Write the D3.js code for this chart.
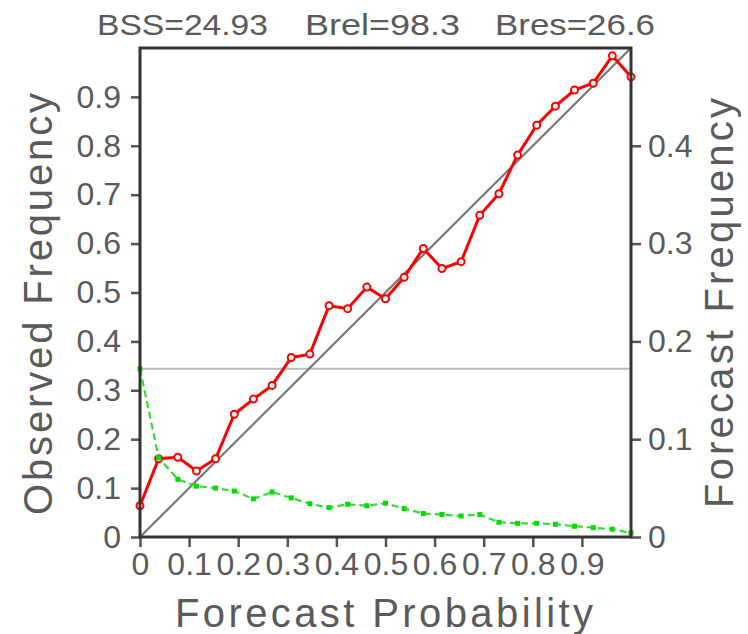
<!DOCTYPE html>
<html>
<head>
<meta charset="utf-8">
<script src="https://cdn.jsdelivr.net/npm/d3@7"></script>
<style>
body { margin: 0; background: #fff; }
text { font-family: "Liberation Sans", Arial, sans-serif; fill: #5a5a5a; }
</style>
</head>
<body>
<script>
// reliability diagram values
var prob = [0, 0.038, 0.077, 0.115, 0.154, 0.192, 0.231, 0.269, 0.308, 0.346, 0.385, 0.423, 0.462, 0.5,
            0.538, 0.577, 0.615, 0.654, 0.692, 0.731, 0.769, 0.808, 0.846, 0.885, 0.923, 0.962, 1.0];
var obsFreq = [0.064, 0.16, 0.163, 0.135, 0.16, 0.251, 0.282, 0.31, 0.367, 0.374, 0.473, 0.467, 0.511, 0.487,
               0.531, 0.59, 0.549, 0.563, 0.658, 0.702, 0.781, 0.842, 0.881, 0.914, 0.928, 0.984, 0.941];
var fcstFreq = [0.172, 0.081, 0.059, 0.052, 0.05, 0.047, 0.039, 0.046, 0.04, 0.034, 0.03, 0.0335, 0.032, 0.0345,
                0.029, 0.024, 0.023, 0.0215, 0.023, 0.015, 0.014, 0.014, 0.013, 0.011, 0.0095, 0.008, 0.004];
var climatology = 0.344;

var probTicks = [0, 0.1, 0.2, 0.3, 0.4, 0.5, 0.6, 0.7, 0.8, 0.9];
var obsTicks = [0, 0.1, 0.2, 0.3, 0.4, 0.5, 0.6, 0.7, 0.8, 0.9];
var fcstTicks = [0, 0.1, 0.2, 0.3, 0.4];
var scores = ["BSS=24.93", "Brel=98.3", "Bres=26.6"];

var margin = {top: 48, right: 117, bottom: 97, left: 140},
    width = 748 - margin.left - margin.right,
    height = 634 - margin.top - margin.bottom;

var x = d3.scaleLinear().domain([0, 1]).range([0, width]);
var y = d3.scaleLinear().domain([0, 1]).range([height, 0]);
var y2 = d3.scaleLinear().domain([0, 0.5]).range([height, 0]);

var root = d3.select("body").append("svg")
    .attr("width", 748)
    .attr("height", 634);

var svg = root.append("g")
    .attr("transform", "translate(" + margin.left + "," + margin.top + ")");

// score line on top
var scoreX = [97, 305, 495], scoreW = [171, 155, 160];
root.selectAll(".score")
  .data(scores)
  .enter().append("text")
    .attr("class", "score")
    .attr("x", function(d, i) { return scoreX[i]; })
    .attr("y", 35)
    .attr("textLength", function(d, i) { return scoreW[i]; })
    .attr("lengthAdjust", "spacingAndGlyphs")
    .style("font-size", "30px")
    .text(function(d) { return d; });

// climatology
svg.append("line")
    .attr("x1", 0).attr("x2", width)
    .attr("y1", y(climatology)).attr("y2", y(climatology))
    .style("stroke", "#bbb").style("stroke-width", 2);

// perfect reliability diagonal
svg.append("line")
    .attr("x1", x(0)).attr("y1", y(0))
    .attr("x2", x(1)).attr("y2", y(1))
    .style("stroke", "#777").style("stroke-width", 2.2);

var fmt = d3.format("~g");

function styleAxis(g) {
  g.select(".domain").remove();
  g.selectAll(".tick line").style("stroke", "#555").style("stroke-width", 2.5);
  g.selectAll(".tick text").style("font-size", "32px").style("font-family", null).style("fill", "#5a5a5a");
}

svg.append("g")
    .call(d3.axisLeft(y).tickValues(obsTicks).tickSize(9).tickPadding(10).tickFormat(fmt))
    .call(styleAxis);

svg.append("g")
    .attr("transform", "translate(0," + height + ")")
    .call(d3.axisBottom(x).tickValues(probTicks).tickSize(10).tickPadding(5).tickFormat(fmt))
    .call(styleAxis);

svg.append("g")
    .attr("transform", "translate(" + width + ",0)")
    .call(d3.axisRight(y2).tickValues(fcstTicks).tickSize(10).tickPadding(7).tickFormat(fmt))
    .call(styleAxis);

// observed frequency (red)
var obsPts = prob.map(function(p, i) { return [p, obsFreq[i]]; });
svg.append("path")
    .datum(obsPts)
    .attr("d", d3.line().x(function(d) { return x(d[0]); }).y(function(d) { return y(d[1]); }))
    .style("fill", "none").style("stroke", "#ff0000").style("stroke-width", 3);
svg.selectAll(".obs")
  .data(obsPts)
  .enter().append("circle")
    .attr("class", "obs")
    .attr("cx", function(d) { return x(d[0]); })
    .attr("cy", function(d) { return y(d[1]); })
    .attr("r", 3.5)
    .style("fill", "#fff").style("stroke", "#ff0000").style("stroke-width", 2);

// forecast frequency (green, right axis)
var fcstPts = prob.map(function(p, i) { return [p, fcstFreq[i]]; });
svg.append("path")
    .datum(fcstPts)
    .attr("d", d3.line().x(function(d) { return x(d[0]); }).y(function(d) { return y2(d[1]); }))
    .style("fill", "none").style("stroke", "#33e033").style("stroke-width", 2.2)
    .style("stroke-dasharray", "7,4");
svg.selectAll(".fcst")
  .data(fcstPts)
  .enter().append("rect")
    .attr("class", "fcst")
    .attr("x", function(d) { return x(d[0]) - 2.5; })
    .attr("y", function(d) { return y2(d[1]) - 2.5; })
    .attr("width", 5).attr("height", 5)
    .style("fill", "#00dd00");

// frame
svg.append("rect")
    .attr("width", width).attr("height", height)
    .style("fill", "none").style("stroke", "#333").style("stroke-width", 3);

// axis titles
root.append("text")
    .attr("x", 384).attr("y", 627)
    .attr("text-anchor", "middle")
    .attr("textLength", 418).attr("lengthAdjust", "spacing")
    .style("font-size", "40px")
    .text("Forecast Probability");

root.append("text")
    .attr("transform", "translate(52,304) rotate(-90)")
    .attr("text-anchor", "middle")
    .attr("textLength", 422).attr("lengthAdjust", "spacing")
    .style("font-size", "40px")
    .text("Observed Frequency");

root.append("text")
    .attr("transform", "translate(733,303) rotate(-90)")
    .attr("text-anchor", "middle")
    .attr("textLength", 410).attr("lengthAdjust", "spacing")
    .style("font-size", "40px")
    .text("Forecast Frequency");
</script>
</body>
</html>
